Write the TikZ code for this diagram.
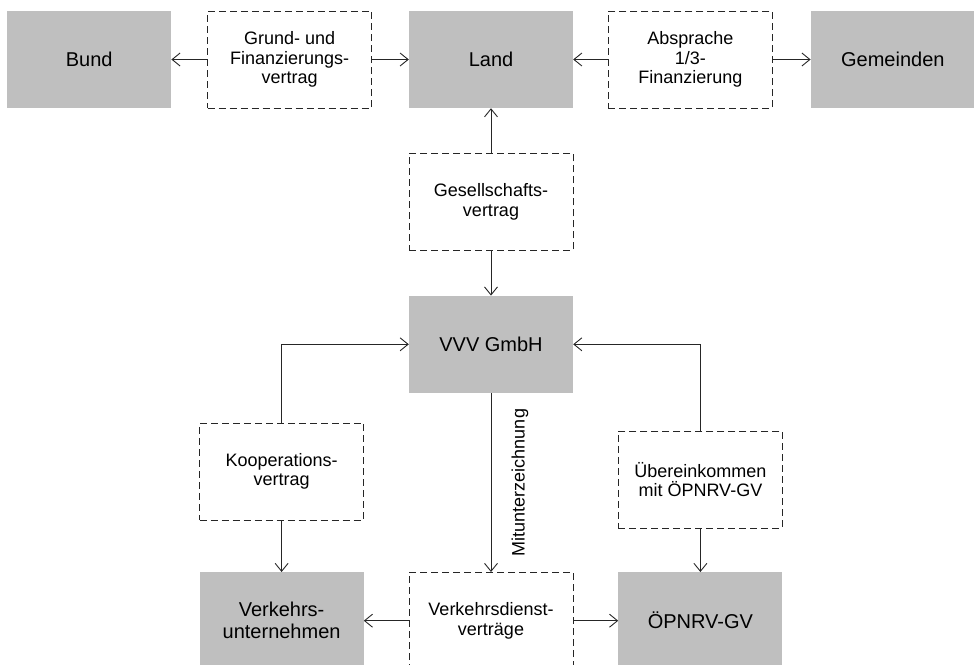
\documentclass[tikz,border=0pt]{standalone}
\usepackage{fontspec}
\setmainfont{Liberation Sans}
\usetikzlibrary{arrows.meta, positioning}
\tikzset{
  party/.style = {rectangle, fill=black!25, align=center, inner sep=0pt, minimum height=97pt, minimum width=164pt, font=\fontsize{20}{22}\selectfont},
  deal/.style = {rectangle, draw=black!85, dash pattern=on 7pt off 4pt, align=center, inner sep=0pt, minimum height=97pt, minimum width=164pt, font=\fontsize{18}{19.5}\selectfont},
  line/.style = {-{Straight Barb[length=8pt,width=13pt]}, draw=black!85, line width=0.9pt}
}
\begin{document}
\begin{tikzpicture}
\useasboundingbox (0pt,0pt) rectangle (974pt,-664pt);
\node[party] (land) at (491pt,-59.5pt) {Land};
\node[deal, left=37pt of land] (grund) {Grund- und\\ Finanzierungs-\\ vertrag};
\node[party, left=36pt of grund] (bund) {Bund};
\node[deal, right=35pt of land] (absprache) {Absprache\\ 1/3-\\ Finanzierung};
\node[party, right=38pt of absprache] (gemeinden) {Gemeinden};

\node[deal, below=45pt of land] (gesell) {Gesellschafts-\\ vertrag};
\node[party, below=45pt of gesell] (vvv) {VVV GmbH};

\node[deal, below=179pt of vvv] (dienst) {Verkehrsdienst-\\ verträge};
\node[party, left=45pt of dienst] (unternehmen) {Verkehrs-\\ unternehmen};
\node[party, right=45pt of dienst] (oepnrv) {ÖPNRV-GV};
\node[deal, above=52pt of unternehmen] (koop) {Kooperations-\\ vertrag};
\node[deal, above=44pt of oepnrv] (ueber) {Übereinkommen\\ mit ÖPNRV-GV};

\draw[line] (grund) -- (bund);
\draw[line] (grund) -- (land);
\draw[line] (absprache) -- (land);
\draw[line] (absprache) -- (gemeinden);
\draw[line] (gesell) -- (land);
\draw[line] (gesell) -- (vvv);
\draw[line] (koop) |- (vvv);
\draw[line] (koop) -- (unternehmen);
\draw[line] (ueber) |- (vvv);
\draw[line] (ueber) -- (oepnrv);
\draw[line] (vvv) -- node[midway, xshift=20pt, rotate=90, anchor=north, inner sep=0pt, font=\fontsize{18}{19.5}\selectfont] {Mitunterzeichnung} (dienst);
\draw[line] (dienst) -- (unternehmen);
\draw[line] (dienst) -- (oepnrv);
\end{tikzpicture}
\end{document}
